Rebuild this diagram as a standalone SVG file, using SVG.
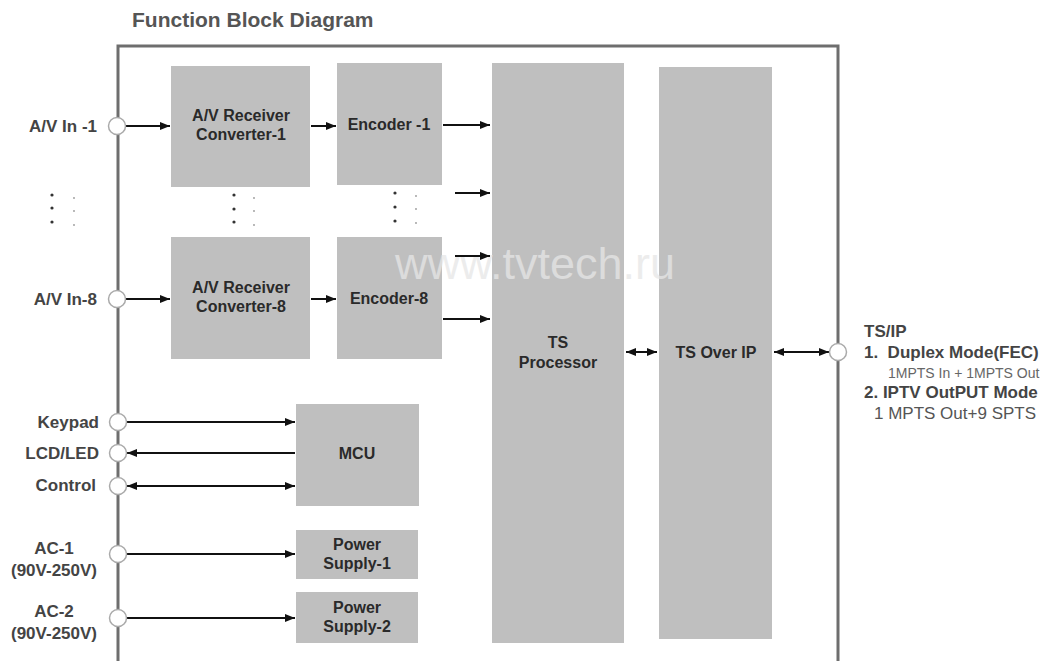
<svg xmlns="http://www.w3.org/2000/svg" width="1055" height="661" viewBox="0 0 1055 661">
<style>
.title{font-family:"Liberation Sans",Arial,sans-serif;font-weight:bold;font-size:21px;fill:#555}
.box{fill:#bfbfbf}
.bt{font-family:"Liberation Sans",Arial,sans-serif;font-weight:bold;font-size:16px;fill:#2a2a2a;text-anchor:middle}
.lb{font-family:"Liberation Sans",Arial,sans-serif;font-weight:bold;font-size:17px;fill:#444}
.rb{font-family:"Liberation Sans",Arial,sans-serif;font-weight:bold;font-size:17px;fill:#444}
.rn{font-family:"Liberation Sans",Arial,sans-serif;font-size:17px;fill:#555}
.rs{font-family:"Liberation Sans",Arial,sans-serif;font-size:14px;fill:#666}
.port{fill:#fff;stroke:#aaa;stroke-width:1.5}
.ln{stroke:#111;stroke-width:2;fill:none}
.dot{fill:#333}
.sdot{fill:#999}
.wm{font-family:"Liberation Sans",Arial,sans-serif;font-size:45px;fill:#e6e6e6;fill-opacity:0.75}
</style>
<defs>
<marker id="ah" viewBox="0 0 10 8" refX="10" refY="4" markerWidth="10" markerHeight="8" markerUnits="userSpaceOnUse" orient="auto-start-reverse">
<path d="M0,0 L10,4 L0,8 z" fill="#111"/>
</marker>
</defs>
<rect width="1055" height="661" fill="#fff"/>
<text class="title" x="132" y="27">Function Block Diagram</text>
<path d="M118,661 V46 H838 V661" fill="none" stroke="#6e6e6e" stroke-width="3"/>

<g id="conv1"><rect class="box" x="171" y="66" width="139" height="121"/><text class="bt" x="241" y="121">A/V Receiver</text><text class="bt" x="241" y="140">Converter-1</text></g>
<g id="enc1"><rect class="box" x="337" y="63" width="105" height="122"/><text class="bt" x="389" y="130">Encoder -1</text></g>
<g id="conv8"><rect class="box" x="171" y="237" width="139" height="122"/><text class="bt" x="241" y="293">A/V Receiver</text><text class="bt" x="241" y="312">Converter-8</text></g>
<g id="enc8"><rect class="box" x="337" y="237" width="105" height="122"/><text class="bt" x="389" y="304">Encoder-8</text></g>
<g id="tsproc"><rect class="box" x="492" y="63" width="132" height="580"/><text class="bt" x="558" y="348">TS</text><text class="bt" x="558" y="368">Processor</text></g>
<g id="tsip"><rect class="box" x="659" y="67" width="113" height="572"/><text class="bt" x="716" y="358">TS Over IP</text></g>
<g id="mcu"><rect class="box" x="296" y="404" width="123" height="102"/><text class="bt" x="357" y="459">MCU</text></g>
<g id="ps1"><rect class="box" x="296" y="530" width="122" height="49"/><text class="bt" x="357" y="550">Power</text><text class="bt" x="357" y="569">Supply-1</text></g>
<g id="ps2"><rect class="box" x="296" y="592" width="122" height="51"/><text class="bt" x="357" y="613">Power</text><text class="bt" x="357" y="632">Supply-2</text></g>

<text class="wm" x="395" y="279">www.tvtech.ru</text>

<g id="dots">
<circle class="dot" cx="52" cy="195" r="1.6"/><circle class="dot" cx="52" cy="208" r="1.6"/><circle class="dot" cx="52" cy="222" r="1.6"/>
<circle class="sdot" cx="74" cy="198" r="0.9"/><circle class="sdot" cx="74" cy="211" r="0.9"/><circle class="sdot" cx="74" cy="225" r="0.9"/>
<circle class="dot" cx="234" cy="195" r="1.6"/><circle class="dot" cx="234" cy="209" r="1.6"/><circle class="dot" cx="234" cy="222" r="1.6"/>
<circle class="sdot" cx="254" cy="198" r="0.9"/><circle class="sdot" cx="254" cy="211" r="0.9"/><circle class="sdot" cx="254" cy="225" r="0.9"/>
<circle class="dot" cx="395" cy="193" r="1.6"/><circle class="dot" cx="395" cy="207" r="1.6"/><circle class="dot" cx="395" cy="221" r="1.6"/>
<circle class="sdot" cx="416" cy="196" r="0.9"/><circle class="sdot" cx="416" cy="209" r="0.9"/><circle class="sdot" cx="416" cy="223" r="0.9"/>
</g>

<g id="connectors">
<line class="ln" x1="126" y1="126" x2="170" y2="126" marker-end="url(#ah)"/>
<line class="ln" x1="311" y1="126" x2="336" y2="126" marker-end="url(#ah)"/>
<line class="ln" x1="443" y1="125" x2="490" y2="125" marker-end="url(#ah)"/>
<line class="ln" x1="455" y1="193" x2="490" y2="193" marker-end="url(#ah)"/>
<line class="ln" x1="455" y1="256" x2="490" y2="256" marker-end="url(#ah)"/>
<line class="ln" x1="126" y1="299" x2="170" y2="299" marker-end="url(#ah)"/>
<line class="ln" x1="311" y1="299" x2="336" y2="299" marker-end="url(#ah)"/>
<line class="ln" x1="443" y1="319" x2="490" y2="319" marker-end="url(#ah)"/>
<line class="ln" x1="127" y1="422" x2="295" y2="422" marker-end="url(#ah)"/>
<line class="ln" x1="295" y1="453" x2="127" y2="453" marker-end="url(#ah)"/>
<line class="ln" x1="127" y1="486" x2="295" y2="486" marker-start="url(#ah)" marker-end="url(#ah)"/>
<line class="ln" x1="127" y1="554" x2="295" y2="554" marker-end="url(#ah)"/>
<line class="ln" x1="127" y1="618" x2="295" y2="618" marker-end="url(#ah)"/>
<line class="ln" x1="626" y1="352" x2="657" y2="352" marker-start="url(#ah)" marker-end="url(#ah)"/>
<line class="ln" x1="774" y1="352" x2="829" y2="352" marker-start="url(#ah)" marker-end="url(#ah)"/>
</g>

<g id="ports">
<circle class="port" cx="117" cy="126" r="8.5"/>
<circle class="port" cx="117" cy="299" r="8.5"/>
<circle class="port" cx="118" cy="422" r="8.5"/>
<circle class="port" cx="118" cy="453" r="8.5"/>
<circle class="port" cx="118" cy="486" r="8.5"/>
<circle class="port" cx="118" cy="554" r="8.5"/>
<circle class="port" cx="118" cy="618" r="8.5"/>
<circle class="port" cx="838" cy="352" r="8.5"/>
</g>

<g id="labels">
<text class="lb" x="97" y="132" text-anchor="end">A/V In -1</text>
<text class="lb" x="97" y="305" text-anchor="end">A/V In-8</text>
<text class="lb" x="99" y="428" text-anchor="end">Keypad</text>
<text class="lb" x="99" y="459" text-anchor="end">LCD/LED</text>
<text class="lb" x="96" y="491" text-anchor="end">Control</text>
<text class="lb" x="54" y="554" text-anchor="middle">AC-1</text>
<text class="lb" x="54" y="576" text-anchor="middle">(90V-250V)</text>
<text class="lb" x="54" y="617" text-anchor="middle">AC-2</text>
<text class="lb" x="54" y="639" text-anchor="middle">(90V-250V)</text>
<text class="rb" x="864" y="337">TS/IP</text>
<text class="rb" x="864" y="358" xml:space="preserve">1.  Duplex Mode(FEC)</text>
<text class="rs" x="888" y="378">1MPTS In + 1MPTS Out</text>
<text class="rb" x="864" y="398">2. IPTV OutPUT Mode</text>
<text class="rn" x="874" y="419">1 MPTS Out+9 SPTS</text>
</g>
</svg>
